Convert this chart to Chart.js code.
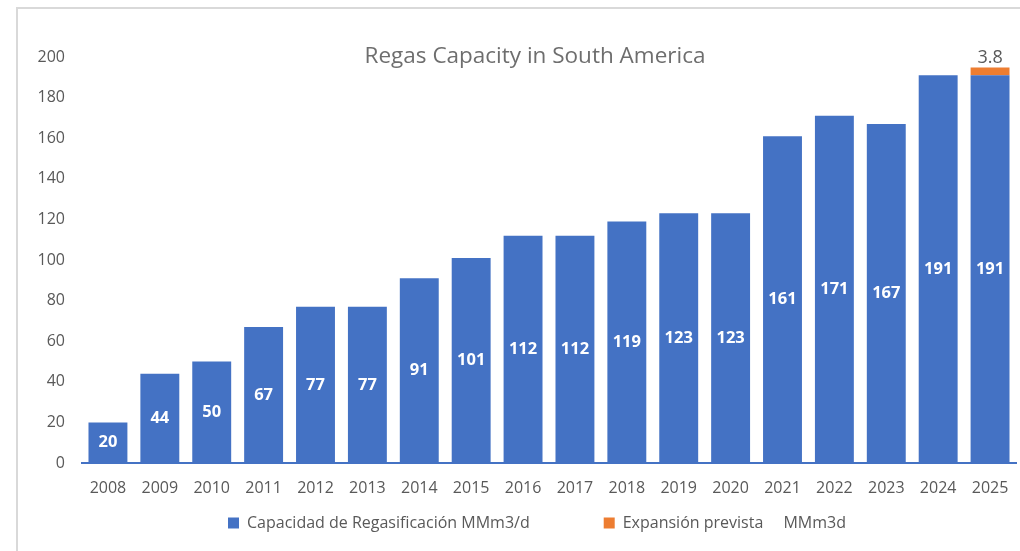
<!DOCTYPE html>
<html>
<head>
<meta charset="utf-8">
<script src="https://cdn.jsdelivr.net/npm/chart.js@4.4.1/dist/chart.umd.min.js"></script>
<style>
    html, body { margin: 0; padding: 0; background: #ffffff; }
    #frame {
        position: absolute; left: 16px; top: 7px; width: 1004px; height: 544px;
        border-top: 2px solid #d9d9d9; border-left: 2px solid #d9d9d9;
    }
    #wrap { position: absolute; left: 0; top: 0; width: 1020px; height: 551px; }
</style>
</head>
<body>
<div id="frame"></div>
<div id="wrap"><canvas id="regasChart"></canvas></div>
<script>
const years = ['2008', '2009', '2010', '2011', '2012', '2013', '2014', '2015', '2016',
    '2017', '2018', '2019', '2020', '2021', '2022', '2023', '2024', '2025'];
const capacity = [20, 44, 50, 67, 77, 77, 91, 101, 112, 112, 119, 123, 123, 161, 171, 167, 191, 191];
const expansion = [null, null, null, null, null, null, null, null, null,
    null, null, null, null, null, null, null, null, 3.8];
const yTicks = [0, 20, 40, 60, 80, 100, 120, 140, 160, 180, 200];

const FONT = "'Open Sans', 'Liberation Sans', sans-serif";
const GREY = '#595959';

// 棒の中・上に数値を描く
const valueLabels = {
    id: 'valueLabels',
    afterDatasetsDraw(chart) {
        const ctx = chart.ctx;
        ctx.save();
        ctx.textAlign = 'center';
        chart.getDatasetMeta(0).data.forEach((bar, i) => {
            ctx.fillStyle = '#ffffff';
            ctx.font = 'bold 16.5px ' + FONT;
            ctx.textBaseline = 'middle';
            ctx.fillText(capacity[i], bar.x, (bar.y + bar.base) / 2);
        });
        chart.getDatasetMeta(1).data.forEach((bar, i) => {
            if (expansion[i] === null) return;
            ctx.fillStyle = GREY;
            ctx.font = '18px ' + FONT;
            ctx.textBaseline = 'bottom';
            ctx.fillText(expansion[i], bar.x, bar.y - 1);
        });
        ctx.restore();
    }
};

// タイトルはプロット内に重ねて描く
const overlayTitle = {
    id: 'overlayTitle',
    afterDraw(chart) {
        const ctx = chart.ctx;
        ctx.save();
        ctx.fillStyle = '#6e6e6e';
        ctx.font = '22.5px ' + FONT;
        ctx.textAlign = 'center';
        ctx.textBaseline = 'middle';
        ctx.fillText('Regas Capacity in South America', 535, chart.chartArea.top);
        ctx.restore();
    }
};

const ctx = document.getElementById('regasChart').getContext('2d');
new Chart(ctx, {
    type: 'bar',
    data: {
        labels: years,
        datasets: [
            {
                label: 'Capacidad de Regasificación MMm3/d\u2003\u2003\u2003\u2002',
                data: capacity,
                backgroundColor: '#4472C4',
                barPercentage: 0.75,
                categoryPercentage: 1.0
            },
            {
                label: 'Expansión prevista \u2003MMm3d\u2003\u2002',
                data: expansion,
                backgroundColor: '#ED7D31',
                barPercentage: 0.75,
                categoryPercentage: 1.0
            }
        ]
    },
    options: {
        responsive: true,
        maintainAspectRatio: false,
        animation: false,
        layout: { padding: { top: 57, right: 4, left: 0, bottom: 10 } },
        scales: {
            x: {
                stacked: true,
                afterFit(scale) { scale.height = 34; },
                grid: { display: false },
                border: { color: '#4472C4', width: 2 },
                ticks: { color: GREY, font: { family: FONT, size: 16 }, padding: 8 }
            },
            y: {
                stacked: true,
                min: 0,
                max: 200,
                afterFit(scale) { scale.width = 82; },
                afterBuildTicks(scale) { scale.ticks = yTicks.map(v => ({ value: v })); },
                grid: { display: false },
                border: { display: false },
                ticks: { color: GREY, font: { family: FONT, size: 16 }, padding: 9 }
            }
        },
        plugins: {
            legend: {
                position: 'bottom',
                fullSize: false,
                labels: {
                    color: GREY,
                    boxWidth: 11,
                    boxHeight: 11,
                    padding: 18,
                    font: { family: FONT, size: 16 }
                }
            },
            tooltip: { enabled: false }
        }
    },
    plugins: [valueLabels, overlayTitle]
});
</script>
</body>
</html>
